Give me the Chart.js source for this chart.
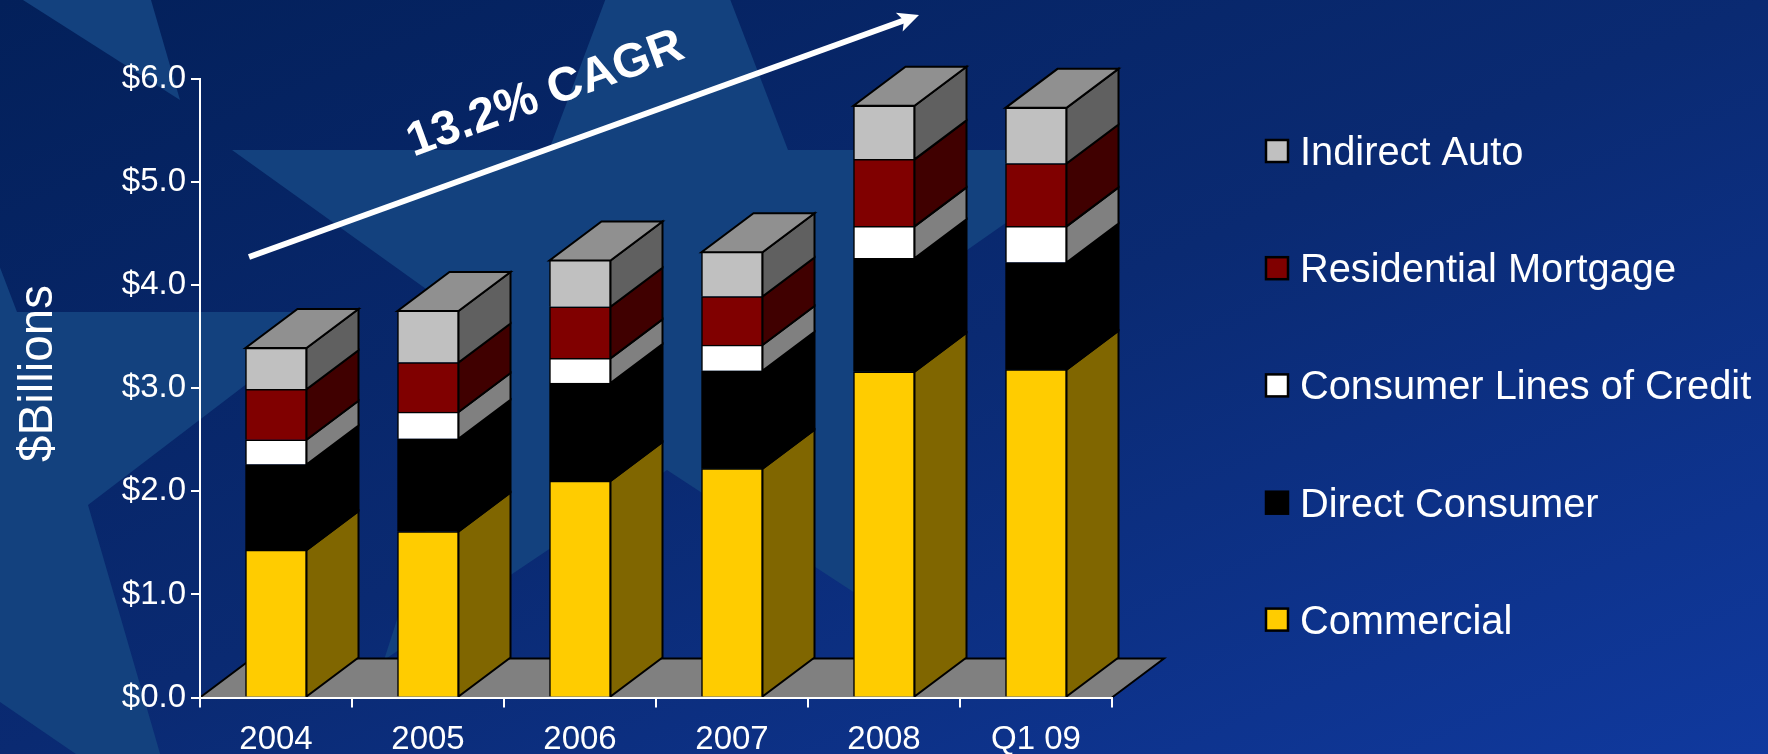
<!DOCTYPE html>
<html>
<head>
<meta charset="utf-8">
<title>Loan portfolio by type</title>
<style>
  html, body { margin: 0; padding: 0; background: #0a2a72; overflow: hidden; }
  canvas { display: block; }
</style>
<script src="https://cdn.jsdelivr.net/npm/chart.js@4"></script>
</head>
<body>
<canvas id="chart" width="1768" height="754"></canvas>
<script>
// Period labels
const categories = ['2004', '2005', '2006', '2007', '2008', 'Q1 09'];

// Balances in $ billions, one array per loan type, bottom of the stack first
const commercial      = [1.43, 1.61, 2.10, 2.22, 3.16, 3.18];
const directConsumer  = [0.83, 0.90, 0.95, 0.95, 1.10, 1.04];
const consumerLines   = [0.24, 0.26, 0.24, 0.25, 0.31, 0.35];
const residential     = [0.49, 0.48, 0.50, 0.47, 0.65, 0.61];
const indirectAuto    = [0.40, 0.50, 0.45, 0.43, 0.52, 0.54];

const FONT = '"Liberation Sans", Arial, sans-serif';
const DEPTH_X = 52;
const DEPTH_Y = 39;
const TOP_FACE = '#909090';
const FLOOR = '#808080';

const series = [
  { label: 'Commercial',               data: commercial,     front: '#FFCC00', side: '#806600' },
  { label: 'Direct Consumer',          data: directConsumer, front: '#000000', side: '#000000' },
  { label: 'Consumer Lines of Credit', data: consumerLines,  front: '#FFFFFF', side: '#808080' },
  { label: 'Residential Mortgage',     data: residential,    front: '#800000', side: '#400000' },
  { label: 'Indirect Auto',            data: indirectAuto,   front: '#C0C0C0', side: '#606060' }
];

function fillPoly(ctx, pts, color) {
  ctx.beginPath();
  pts.forEach((p, i) => i ? ctx.lineTo(p[0], p[1]) : ctx.moveTo(p[0], p[1]));
  ctx.closePath();
  ctx.fillStyle = color;
  ctx.fill();
}

// Page backdrop: diagonal blue wash with large pale stars
const backdrop = {
  id: 'backdrop',
  beforeDraw(chart) {
    const { ctx, width, height } = chart;
    const g = ctx.createLinearGradient(0, 0, 544, 1277);
    g.addColorStop(0, '#03205a');
    g.addColorStop(0.5, '#0a2a72');
    g.addColorStop(1, '#10399e');
    ctx.save();
    ctx.fillStyle = g;
    ctx.fillRect(0, 0, width, height);
    const star = '#13417e';
    fillPoly(ctx, [[667,-165],[788,150],[1110,150],[860,325],[965,665],[667,470],[384,660],[489,334],[232,150],[549,150]], star);
    fillPoly(ctx, [[-100,110],[-60,110],[17,312],[341,312],[88,505],[181,826],[0,702],[-100,702]], star);
    fillPoly(ctx, [[23,0],[151,0],[180,100]], star);
    ctx.restore();
  }
};

// Extruded floor, side faces and lids around the stacked front faces
const extrude = {
  id: 'extrude',
  beforeDatasetsDraw(chart) {
    const { ctx, scales: { x, y } } = chart;
    const y0 = y.getPixelForValue(0);
    ctx.save();
    ctx.lineJoin = 'miter';
    ctx.lineWidth = 2;
    ctx.strokeStyle = '#000';

    // floor
    fillPoly(ctx, [[x.left, y0], [x.right, y0], [x.right + DEPTH_X, y0 - DEPTH_Y], [x.left + DEPTH_X, y0 - DEPTH_Y]], FLOOR);
    ctx.beginPath();
    ctx.moveTo(x.left, y0);
    ctx.lineTo(x.left + DEPTH_X, y0 - DEPTH_Y);
    ctx.lineTo(x.right + DEPTH_X, y0 - DEPTH_Y);
    ctx.lineTo(x.right, y0);
    ctx.stroke();

    // side faces, one band per segment
    series.forEach((s, i) => {
      chart.getDatasetMeta(i).data.forEach(bar => {
        const r = bar.x + bar.width / 2;
        const pts = [[r, bar.base], [r, bar.y], [r + DEPTH_X, bar.y - DEPTH_Y], [r + DEPTH_X, bar.base - DEPTH_Y]];
        fillPoly(ctx, pts, s.side);
        ctx.stroke();
      });
    });

    // lid on top of the last segment
    chart.getDatasetMeta(series.length - 1).data.forEach(bar => {
      const l = bar.x - bar.width / 2;
      const r = bar.x + bar.width / 2;
      const pts = [[l, bar.y], [r, bar.y], [r + DEPTH_X, bar.y - DEPTH_Y], [l + DEPTH_X, bar.y - DEPTH_Y]];
      fillPoly(ctx, pts, TOP_FACE);
      ctx.stroke();
    });
    ctx.restore();
  }
};

// Growth arrow with its caption, axis caption and the legend column
const overlay = {
  id: 'overlay',
  afterDraw(chart) {
    const { ctx } = chart;
    ctx.save();

    // arrow
    const ax = 249, ay = 257, bx = 919, by = 15;
    const ang = Math.atan2(by - ay, bx - ax);
    ctx.strokeStyle = '#fff';
    ctx.lineWidth = 6;
    ctx.beginPath();
    ctx.moveTo(ax, ay);
    ctx.lineTo(bx - 14 * Math.cos(ang), by - 14 * Math.sin(ang));
    ctx.stroke();
    ctx.translate(bx, by);
    ctx.rotate(ang);
    fillPoly(ctx, [[0, 0], [-21, -10], [-16, 0], [-21, 10]], '#fff');
    ctx.setTransform(1, 0, 0, 1, 0, 0);

    // growth caption
    ctx.translate(550, 107);
    ctx.rotate(-20 * Math.PI / 180);
    ctx.fillStyle = '#fff';
    ctx.font = 'bold 48px ' + FONT;
    ctx.textAlign = 'center';
    ctx.textBaseline = 'alphabetic';
    ctx.fillText('13.2% CAGR', 0, 0);
    ctx.setTransform(1, 0, 0, 1, 0, 0);

    // value axis caption
    ctx.translate(52, 373.5);
    ctx.rotate(-Math.PI / 2);
    ctx.font = '47.5px ' + FONT;
    ctx.fillText('$Billions', 0, 0);
    ctx.setTransform(1, 0, 0, 1, 0, 0);

    // legend, top of the stack first
    ctx.font = '39.8px ' + FONT;
    ctx.textAlign = 'left';
    ctx.textBaseline = 'alphabetic';
    const rowY = [151, 268.2, 385.4, 502.7, 619.6];
    [...series].reverse().forEach((s, i) => {
      ctx.fillStyle = s.front;
      ctx.fillRect(1266, rowY[i] - 11, 22, 22);
      ctx.strokeStyle = '#000';
      ctx.lineWidth = 2.5;
      ctx.strokeRect(1266, rowY[i] - 11, 22, 22);
      ctx.fillStyle = '#fff';
      ctx.fillText(s.label, 1300, rowY[i] + 14);
    });
    ctx.restore();
  }
};

new Chart(document.getElementById('chart'), {
  type: 'bar',
  data: {
    labels: categories,
    datasets: series.map(s => ({
      label: s.label,
      data: s.data,
      backgroundColor: s.front,
      borderColor: '#000',
      borderWidth: 1.5,
      barThickness: 61,
      stack: 'loans'
    }))
  },
  options: {
    responsive: false,
    animation: false,
    events: [],
    layout: { padding: { left: 0, top: 79, right: 656, bottom: 0 } },
    plugins: { legend: { display: false }, tooltip: { enabled: false } },
    scales: {
      x: {
        stacked: true,
        afterFit(scale) { scale.height = 56.5; },
        border: { color: '#fff', width: 2, z: 2 },
        grid: { color: '#fff', lineWidth: 2, tickLength: 10, drawOnChartArea: false, z: 2 },
        ticks: { color: '#fff', font: { family: FONT, size: 33 }, padding: 13, maxRotation: 0, autoSkip: false }
      },
      y: {
        stacked: true,
        min: 0,
        max: 6,
        afterFit(scale) { scale.width = 200; },
        border: { color: '#fff', width: 2, z: 2 },
        grid: { color: '#fff', lineWidth: 2, tickLength: 9, drawOnChartArea: false, z: 2 },
        ticks: {
          color: '#fff',
          stepSize: 1,
          padding: 5,
          font: { family: FONT, size: 33 },
          callback: v => '$' + v.toFixed(1)
        }
      }
    }
  },
  plugins: [backdrop, extrude, overlay]
});
</script>
</body>
</html>
